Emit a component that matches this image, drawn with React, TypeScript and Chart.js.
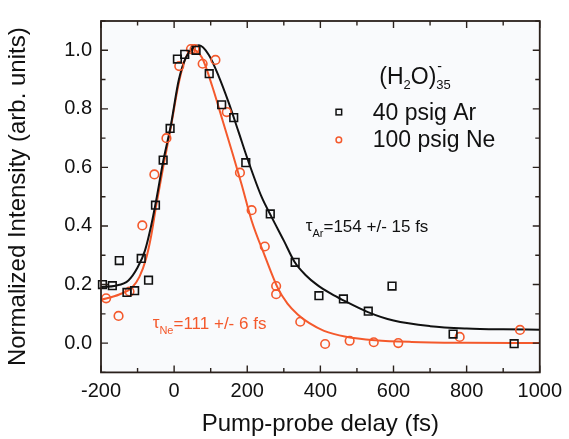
import React, { useEffect, useRef } from "react";
import { Chart, registerables } from "chart.js";

Chart.register(...registerables);

// ---- data ----
const arDelay = [-196, -169, -150, -129, -108, -90, -70, -51, -30, -11, 9, 29, 60, 96, 130, 163, 196, 263, 331, 396, 463, 531, 596, 763, 930];
const arIntensity = [0.2, 0.196, 0.282, 0.173, 0.179, 0.289, 0.215, 0.471, 0.625, 0.733, 0.97, 0.986, 1.0, 0.92, 0.814, 0.77, 0.616, 0.441, 0.276, 0.162, 0.151, 0.109, 0.195, 0.031, -0.002];

const neDelay = [-186, -152, -122, -87, -54, -21, 14, 46, 56, 78, 113, 144, 180, 212, 248, 279, 279, 345, 413, 480, 546, 613, 781, 946];
const neIntensity = [0.153, 0.093, 0.176, 0.402, 0.576, 0.7, 0.946, 1.004, 1.004, 0.954, 0.967, 0.789, 0.582, 0.454, 0.33, 0.195, 0.167, 0.073, -0.003, 0.008, 0.003, 0.0, 0.021, 0.045];

const arFitDelay = [-200, -160, -125, -100, -80, -63, -49, -30, -10, 13, 32, 50, 68, 95, 122, 149, 176, 203, 239, 266, 300, 330, 360, 392, 430, 460, 530, 600, 700, 800, 900, 1000];
const arFitIntensity = [0.192, 0.196, 0.214, 0.258, 0.315, 0.4, 0.488, 0.62, 0.737, 0.9, 0.975, 1.006, 1.017, 0.984, 0.911, 0.822, 0.722, 0.621, 0.5, 0.432, 0.35, 0.276, 0.232, 0.198, 0.168, 0.148, 0.106, 0.077, 0.058, 0.05, 0.047, 0.046];

const neFitDelay = [-200, -150, -115, -95, -77, -63, -49, -30, -10, 13, 32, 50, 76, 104, 131, 158, 185, 212, 248, 284, 310, 338, 370, 410, 470, 550, 650, 800, 1000];
const neFitIntensity = [0.148, 0.166, 0.19, 0.226, 0.287, 0.365, 0.47, 0.6, 0.73, 0.89, 0.975, 1.003, 0.975, 0.878, 0.767, 0.655, 0.54, 0.418, 0.298, 0.187, 0.135, 0.098, 0.068, 0.042, 0.022, 0.01, 0.004, 0.001, 0.0];

const xTickValues = [-200, 0, 200, 400, 600, 800, 1000];
const yTickValues = [0.0, 0.2, 0.4, 0.6, 0.8, 1.0];
const xRange = [-200, 1000];
const yRange = [-0.1, 1.1];
const xMinorStep = 100;
const yMinorStep = 0.1;

const seriesLabels = ["40 psig Ar", "100 psig Ne"];
const xTitle = "Pump-probe delay (fs)";
const yTitle = "Normalized Intensity (arb. units)";
const tauArText = ["τ", "Ar", "=154 +/- 15 fs"];
const tauNeText = ["τ", "Ne", "=111 +/- 6 fs"];

// ---- styles ----
const FONT = '"Liberation Sans", Arial, Helvetica, sans-serif';
const BLACK = "#111111";
const RED = "#f4592c";
const FRAME = "#2a211c";

type Seg = { text: string; size: number; dy: number; dx?: number; noAdvance?: boolean };

function drawRich(ctx: CanvasRenderingContext2D, x: number, y: number, segs: Seg[], color: string) {
  let cx = x;
  ctx.fillStyle = color;
  ctx.textBaseline = "alphabetic";
  ctx.textAlign = "left";
  for (const s of segs) {
    ctx.font = `${s.size}px ${FONT}`;
    ctx.fillText(s.text, cx + (s.dx || 0), y + s.dy);
    if (!s.noAdvance) cx += ctx.measureText(s.text).width;
  }
}

const framePlugin = {
  id: "frameAndText",
  beforeDraw(chart: any) {
    const { ctx, chartArea: a } = chart;
    ctx.save();
    ctx.fillStyle = "#f9fafc";
    ctx.fillRect(a.left, a.top, a.right - a.left, a.bottom - a.top);
    ctx.restore();
  },
  afterDatasetsDraw(chart: any) {
    const { ctx, scales } = chart;
    const xs = scales.x;
    const ys = scales.y;
    const X = (v: number) => xs.getPixelForValue(v);
    const Y = (v: number) => ys.getPixelForValue(v);
    ctx.save();

    // legend header (H2O)35^-
    const hx = X(561);
    const hy = Y(0.884);
    drawRich(ctx, hx, hy, [
      { text: "(H", size: 23, dy: 0 },
      { text: "2", size: 13, dy: 5 },
      { text: "O)", size: 23, dy: 0 },
      { text: "-", size: 14, dy: -13, dx: 1, noAdvance: true },
      { text: "35", size: 13, dy: 5 },
    ], BLACK);

    // legend entries
    const mx = X(450.5);
    const tx = X(543);
    const row1 = Y(0.789);
    const row2 = Y(0.694);
    ctx.lineWidth = 1.5;
    ctx.strokeStyle = BLACK;
    ctx.strokeRect(mx - 2.8, row1 - 2.8, 5.6, 5.6);
    ctx.strokeStyle = RED;
    ctx.beginPath();
    ctx.arc(mx, row2, 2.8, 0, Math.PI * 2);
    ctx.stroke();
    drawRich(ctx, tx, row1 + 7.5, [{ text: seriesLabels[0], size: 23, dy: 0 }], BLACK);
    drawRich(ctx, tx, row2 + 7.5, [{ text: seriesLabels[1], size: 23, dy: 0 }], BLACK);

    // tau annotations
    drawRich(ctx, X(360), Y(0.379), [
      { text: tauArText[0], size: 17, dy: -1 },
      { text: tauArText[1], size: 11, dy: 5 },
      { text: tauArText[2], size: 17, dy: 0 },
    ], BLACK);
    drawRich(ctx, X(-58.6), Y(0.047), [
      { text: tauNeText[0], size: 17, dy: -1 },
      { text: tauNeText[1], size: 11, dy: 5 },
      { text: tauNeText[2], size: 17, dy: 0 },
    ], RED);
    ctx.restore();
  },
  afterDraw(chart: any) {
    const { ctx, chartArea: a, scales } = chart;
    const xs = scales.x;
    const ys = scales.y;
    ctx.save();
    ctx.strokeStyle = FRAME;
    ctx.lineWidth = 1.4;
    ctx.beginPath();
    const nx = Math.round((xRange[1] - xRange[0]) / xMinorStep);
    for (let i = 0; i <= nx; i++) {
      const v = xRange[0] + i * xMinorStep;
      const major = xTickValues.some((t) => Math.abs(t - v) < 1e-6);
      const len = major ? 7 : 4.5;
      const px = xs.getPixelForValue(v);
      ctx.moveTo(px, a.bottom);
      ctx.lineTo(px, a.bottom - len);
      ctx.moveTo(px, a.top);
      ctx.lineTo(px, a.top + len);
    }
    const ny = Math.round((yRange[1] - yRange[0]) / yMinorStep);
    for (let i = 0; i <= ny; i++) {
      const v = yRange[0] + i * yMinorStep;
      const major = yTickValues.some((t) => Math.abs(t - v) < 1e-6);
      const len = major ? 7 : 4.5;
      const py = ys.getPixelForValue(v);
      ctx.moveTo(a.left, py);
      ctx.lineTo(a.left + len, py);
      ctx.moveTo(a.right, py);
      ctx.lineTo(a.right - len, py);
    }
    ctx.stroke();
    ctx.lineWidth = 1.8;
    ctx.strokeRect(a.left, a.top, a.right - a.left, a.bottom - a.top);
    ctx.restore();
  },
};

const toPoints = (xs: number[], ys: number[]) => xs.map((x, i) => ({ x, y: ys[i] }));

export default function App() {
  const ref = useRef<HTMLCanvasElement | null>(null);

  useEffect(() => {
    if (!ref.current) return;
    const chart = new Chart(ref.current, {
      type: "scatter",
      data: {
        datasets: [
          {
            label: "Ar fit",
            data: toPoints(arFitDelay, arFitIntensity),
            showLine: true,
            borderColor: BLACK,
            borderWidth: 2,
            pointRadius: 0,
            cubicInterpolationMode: "monotone",
            order: 3,
          } as any,
          {
            label: "Ne fit",
            data: toPoints(neFitDelay, neFitIntensity),
            showLine: true,
            borderColor: RED,
            borderWidth: 2,
            pointRadius: 0,
            cubicInterpolationMode: "monotone",
            order: 4,
          } as any,
          {
            label: seriesLabels[1],
            data: toPoints(neDelay, neIntensity),
            pointStyle: "circle",
            pointRadius: 4.3,
            pointBorderWidth: 1.6,
            borderColor: RED,
            backgroundColor: "rgba(0,0,0,0)",
            clip: false,
            order: 2,
          } as any,
          {
            label: seriesLabels[0],
            data: toPoints(arDelay, arIntensity),
            pointStyle: "rect",
            pointRadius: 5.4,
            pointBorderWidth: 1.6,
            borderColor: BLACK,
            backgroundColor: "rgba(0,0,0,0)",
            clip: false,
            order: 1,
          } as any,
        ],
      },
      options: {
        animation: false,
        responsive: false,
        events: [],
        layout: { padding: { top: 12.7, right: 24, bottom: 0, left: 0 } },
        plugins: { legend: { display: false }, tooltip: { enabled: false } },
        scales: {
          x: {
            type: "linear",
            min: xRange[0],
            max: xRange[1],
            afterBuildTicks: (s: any) => {
              s.ticks = xTickValues.map((v) => ({ value: v }));
            },
            afterFit: (s: any) => {
              s.height = 66.6;
            },
            grid: { display: false, drawTicks: false },
            border: { display: false },
            ticks: {
              color: BLACK,
              font: { family: FONT, size: 20 },
              padding: 7,
              maxRotation: 0,
              autoSkip: false,
              callback: (v: any) => String(v),
            },
            title: {
              display: true,
              text: xTitle,
              color: BLACK,
              font: { family: FONT, size: 24 },
              padding: { top: 0, bottom: 0 },
            },
          },
          y: {
            type: "linear",
            min: yRange[0],
            max: yRange[1],
            afterBuildTicks: (s: any) => {
              s.ticks = yTickValues.map((v) => ({ value: v }));
            },
            afterFit: (s: any) => {
              s.width = 101;
            },
            grid: { display: false, drawTicks: false },
            border: { display: false },
            ticks: {
              color: BLACK,
              font: { family: FONT, size: 20 },
              padding: 9,
              autoSkip: false,
              callback: (v: any) => Number(v).toFixed(1),
            },
            title: {
              display: true,
              text: yTitle,
              color: BLACK,
              font: { family: FONT, size: 24 },
              padding: { top: 4, bottom: 0 },
            },
          },
        },
      } as any,
      plugins: [framePlugin],
    });
    return () => chart.destroy();
  }, []);

  return (
    <div style={{ position: "fixed", left: 0, top: 0, width: 569, height: 439, background: "#ffffff" }}>
      <canvas ref={ref} width={569} height={439} style={{ display: "block" }} />
    </div>
  );
}
